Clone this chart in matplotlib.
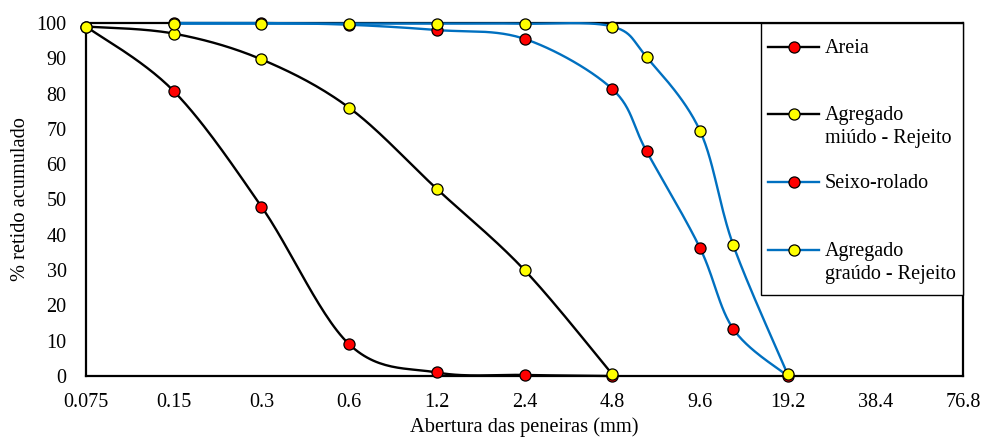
import numpy as np
import matplotlib.pyplot as plt
from matplotlib.patches import Rectangle
from matplotlib.lines import Line2D

plt.rcParams['font.family'] = ['Liberation Serif', 'DejaVu Serif']

# sieve openings (mm) and cumulative retained (%)
x_fine = [0.075, 0.15, 0.3, 0.6, 1.2, 2.4, 4.8]
areia = [99.0, 80.7, 48.0, 9.0, 1.0, 0.3, 0.0]
miudo = [99.0, 97.0, 89.7, 76.0, 53.0, 30.0, 0.5]

x_coarse = [0.15, 0.3, 0.6, 1.2, 2.4, 4.8, 6.3, 9.6, 12.5, 19.2]
seixo = [100.0, 100.0, 99.5, 98.0, 95.5, 81.3, 63.6, 36.3, 13.3, 0.0]
graudo = [99.8, 99.8, 99.8, 99.8, 99.8, 99.0, 90.3, 69.5, 37.0, 0.5]

xticks = [0.075, 0.15, 0.3, 0.6, 1.2, 2.4, 4.8, 9.6, 19.2, 38.4, 76.8]
xtick_labels = ['0.075', '0.15', '0.3', '0.6', '1.2', '2.4', '4.8', '9.6', '19.2', '38.4', '76.8']

BLUE = '#0070C0'


def smooth(xs, ys, n=30):
    # Excel-style smoothed line: cubic bezier through points, done in
    # roughly screen-proportional space (log2 x vs y)
    u = np.log2(np.array(xs) / 0.075) * 87.7
    v = np.array(ys) * 3.53
    pts = np.column_stack([u, v])
    out = [pts[0]]
    t = np.linspace(0, 1, n)[1:, None]
    for i in range(len(pts) - 1):
        p0 = pts[i - 1] if i > 0 else pts[i]
        p1 = pts[i]
        p2 = pts[i + 1]
        p3 = pts[i + 2] if i + 2 < len(pts) else pts[i + 1]
        c1 = p1 + (p2 - p0) / 6
        c2 = p2 - (p3 - p1) / 6
        seg = ((1 - t) ** 3) * p1 + 3 * ((1 - t) ** 2) * t * c1 + 3 * (1 - t) * t ** 2 * c2 + t ** 3 * p2
        out.extend(seg)
    out = np.array(out)
    return 0.075 * 2 ** (out[:, 0] / 87.7), out[:, 1] / 3.53


fig = plt.figure(figsize=(9.82, 4.42), dpi=100)
ax = fig.add_axes([0.0876, 0.1493, 0.8931, 0.7987])

series = [
    (x_fine, areia, 'black', 'red', 'Areia'),
    (x_fine, miudo, 'black', 'yellow', 'Agregado\nmiúdo - Rejeito'),
    (x_coarse, seixo, BLUE, 'red', 'Seixo-rolado'),
    (x_coarse, graudo, BLUE, 'yellow', 'Agregado\ngraúdo - Rejeito'),
]

z = 3
for xs, ys, lc, mc, lab in series:
    sx, sy = smooth(xs, ys)
    ax.plot(sx, sy, color=lc, lw=1.7, zorder=z, clip_on=False)
    ax.plot(xs, ys, 'o', ms=8, mfc=mc, mec='black', mew=0.9, zorder=z + 0.5, clip_on=False)
    z += 1

ax.set_xscale('log', base=2)
ax.set_xlim(0.075, 76.8)
ax.set_ylim(0, 100)
ax.set_xticks(xticks)
ax.set_xticklabels(xtick_labels)
ax.minorticks_off()
ax.set_yticks(range(0, 101, 10))
ax.tick_params(length=0, labelsize=14.5, pad=12)
ax.tick_params(axis='y', pad=14)
for s in ax.spines.values():
    s.set_linewidth(1.6)
    s.set_color('black')

ax.set_xlabel('Abertura das peneiras (mm)', fontsize=14.7, labelpad=4)
ax.set_ylabel('% retido acumulado', fontsize=14.7, labelpad=5)

# legend box drawn by hand so the marker sits on the first text line
def ax_y(px):
    return (376 - px) / 353


def ax_x(px):
    return (px - 86) / 877


ax.add_patch(Rectangle((ax_x(761), ax_y(295)), 1 - ax_x(761), 1 - ax_y(295), transform=ax.transAxes,
                       fc='white', ec='black', lw=1.0, zorder=10, clip_on=False))
rows_px = [47, 114, 182, 250]
for (xs, ys, lc, mc, lab), ypx in zip(series, rows_px):
    yy = ax_y(ypx)
    h0, h1 = ax_x(768), ax_x(819)
    ax.add_line(Line2D([h0, h1], [yy, yy], color=lc, lw=1.7, transform=ax.transAxes, zorder=11))
    ax.add_line(Line2D([(h0 + h1) / 2], [yy], marker='o', ms=8, mfc=mc, mec='black', mew=0.9,
                       transform=ax.transAxes, zorder=12))
    for k, line in enumerate(lab.split('\n')):
        ax.text(ax_x(825), ax_y(ypx + 6 + 23 * k), line, transform=ax.transAxes,
                fontsize=14.5, va='baseline', ha='left', zorder=12)

fig.savefig('out.png', dpi=100)
